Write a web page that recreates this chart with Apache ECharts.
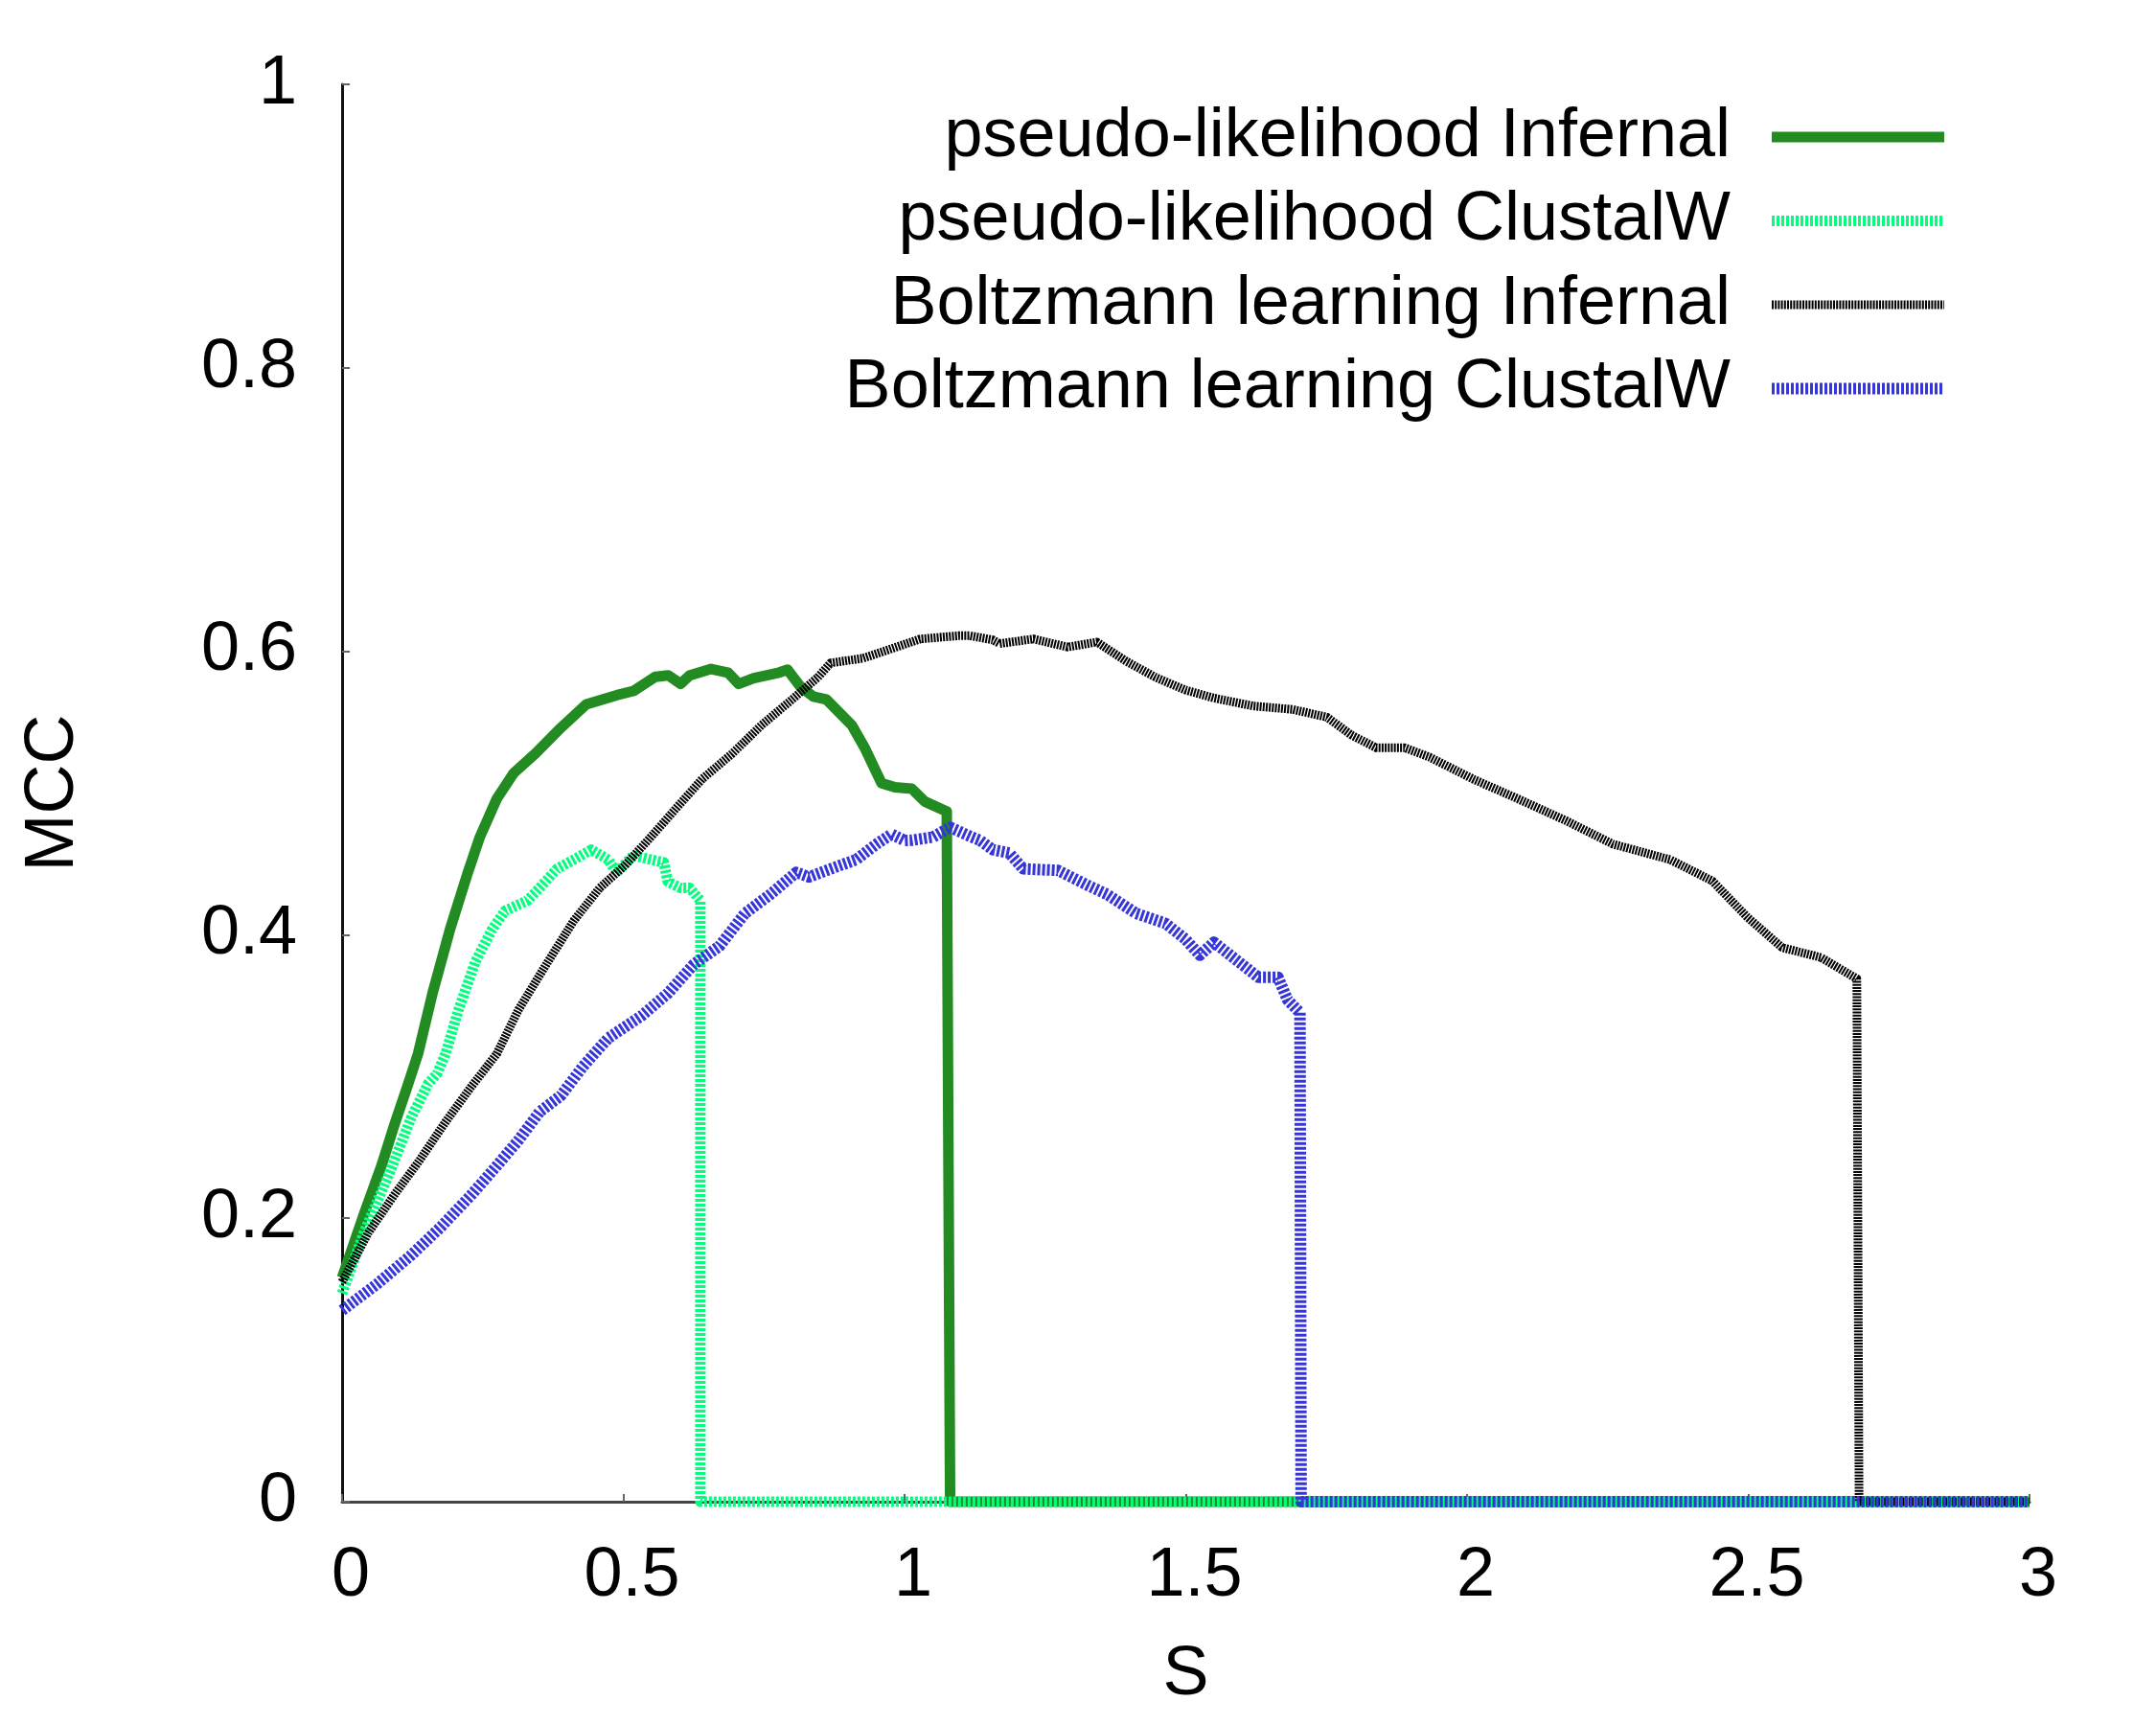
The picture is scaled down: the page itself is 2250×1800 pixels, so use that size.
<!DOCTYPE html>
<html>
<head>
<meta charset="utf-8">
<script src="https://cdn.jsdelivr.net/npm/echarts@6/dist/echarts.min.js"></script>
<style>
html,body{margin:0;padding:0;background:#fff;}
#chart{width:2250px;height:1800px;}
</style>
</head>
<body>
<div id="chart"></div>
<script>
// ---- data ----
const seriesNames = [
  'pseudo-likelihood Infernal',
  'pseudo-likelihood ClustalW',
  'Boltzmann learning Infernal',
  'Boltzmann learning ClustalW'
];
const xTicks = [0, 0.5, 1, 1.5, 2, 2.5, 3];
const yTicks = [0, 0.2, 0.4, 0.6, 0.8, 1];

const plInfernalS = [0, 0.039, 0.070, 0.093, 0.116, 0.135, 0.161, 0.192, 0.222, 0.245, 0.275, 0.305, 0.344, 0.389, 0.434, 0.488, 0.518, 0.557, 0.580, 0.602, 0.618, 0.656, 0.686, 0.705, 0.732, 0.777, 0.792, 0.815, 0.838, 0.861, 0.906, 0.929, 0.959, 0.983, 1.013, 1.036, 1.075, 1.081, 3];
const plInfernalMCC = [0.158, 0.203, 0.237, 0.266, 0.293, 0.316, 0.359, 0.404, 0.442, 0.469, 0.496, 0.514, 0.528, 0.546, 0.5625, 0.569, 0.572, 0.582, 0.583, 0.577, 0.583, 0.5875, 0.585, 0.577, 0.581, 0.585, 0.587, 0.575, 0.568, 0.566, 0.548, 0.532, 0.507, 0.504, 0.503, 0.494, 0.487, 0, 0];

const plClustalS = [0, 0.039, 0.085, 0.123, 0.153, 0.169, 0.184, 0.207, 0.237, 0.267, 0.290, 0.329, 0.351, 0.382, 0.412, 0.443, 0.473, 0.488, 0.518, 0.549, 0.572, 0.579, 0.602, 0.618, 0.633, 0.637, 0.637, 3];
const plClustalMCC = [0.147, 0.19, 0.2325, 0.271, 0.295, 0.302, 0.316, 0.347, 0.381, 0.404, 0.417, 0.424, 0.433, 0.4465, 0.453, 0.46, 0.453, 0.444, 0.456, 0.453, 0.451, 0.4375, 0.433, 0.433, 0.426, 0.424, 0, 0];

const blInfernalS = [0, 0.047, 0.093, 0.138, 0.184, 0.230, 0.275, 0.3135, 0.366, 0.412, 0.458, 0.503, 0.549, 0.5945, 0.6405, 0.693, 0.746, 0.80, 0.846, 0.8685, 0.925, 0.9445, 1.028, 1.097, 1.116, 1.157, 1.169, 1.229, 1.29, 1.342, 1.394, 1.446, 1.499, 1.55, 1.62, 1.69, 1.751, 1.794, 1.838, 1.889, 1.933, 2.012, 2.09, 2.177, 2.259, 2.361, 2.436, 2.498, 2.56, 2.629, 2.693, 2.697, 3];
const blInfernalMCC = [0.155, 0.19, 0.2166, 0.241, 0.268, 0.293, 0.316, 0.347, 0.381, 0.41, 0.433, 0.449, 0.469, 0.4895, 0.51, 0.5276, 0.548, 0.566, 0.5817, 0.5918, 0.595, 0.5975, 0.6087, 0.611, 0.611, 0.608, 0.6054, 0.6087, 0.603, 0.6065, 0.593, 0.5817, 0.5727, 0.567, 0.5614, 0.559, 0.5535, 0.541, 0.532, 0.532, 0.5254, 0.5096, 0.496, 0.4803, 0.464, 0.453, 0.438, 0.4125, 0.391, 0.384, 0.369, 0, 0];

const blClustalS = [0, 0.062, 0.123, 0.176, 0.230, 0.275, 0.3135, 0.351, 0.389, 0.428, 0.473, 0.533, 0.579, 0.625, 0.671, 0.716, 0.762, 0.8075, 0.83, 0.8685, 0.914, 0.952, 0.977, 1.0, 1.013, 1.051, 1.081, 1.119, 1.1335, 1.157, 1.186, 1.211, 1.273, 1.325, 1.36, 1.412, 1.464, 1.499, 1.525, 1.55, 1.586, 1.629, 1.664, 1.681, 1.703, 1.705, 3];
const blClustalMCC = [0.135, 0.1535, 0.174, 0.194, 0.2166, 0.237, 0.255, 0.275, 0.2865, 0.307, 0.327, 0.343, 0.3586, 0.379, 0.392, 0.415, 0.4287, 0.444, 0.4408, 0.4465, 0.453, 0.4645, 0.471, 0.4665, 0.4667, 0.469, 0.4758, 0.469, 0.4667, 0.46, 0.4577, 0.4465, 0.4454, 0.435, 0.4285, 0.415, 0.408, 0.397, 0.3856, 0.3947, 0.3834, 0.37, 0.37, 0.354, 0.345, 0, 0];

function pairs(xs, ys) { return xs.map((x, i) => [x, ys[i]]); }

const FONT = '"Liberation Sans", Arial, Helvetica, sans-serif';
const styles = [
  { color: '#228B22', width: 11, type: 'solid' },
  { color: '#00FF7F', width: 11, type: [3, 2] },
  { color: '#000000', width: 9, type: [2, 1.2] },
  { color: '#3535D8', width: 12, type: [3, 2] }
];
const dataSets = [
  pairs(plInfernalS, plInfernalMCC),
  pairs(plClustalS, plClustalMCC),
  pairs(blInfernalS, blInfernalMCC),
  pairs(blClustalS, blClustalMCC)
];

const chart = echarts.init(document.getElementById('chart'), null, { renderer: 'canvas' });
chart.setOption({
  backgroundColor: '#ffffff',
  animation: false,
  textStyle: { fontFamily: FONT },
  grid: { left: 357, top: 88, right: 132, bottom: 233, containLabel: false },
  legend: {
    orient: 'vertical',
    align: 'right',
    right: 210,
    top: 102,
    itemWidth: 180,
    itemHeight: 72,
    itemGap: 15.5,
    itemStyle: { opacity: 0 },
    textStyle: { fontSize: 72, color: '#000', fontFamily: FONT, padding: [0, 38, 0, 0] },
    data: seriesNames.map((n, i) => ({
      name: n,
      itemStyle: { opacity: 0 },
      lineStyle: { color: styles[i].color, width: styles[i].width, type: styles[i].type, cap: 'butt' }
    }))
  },
  xAxis: {
    type: 'value',
    min: 0, max: 3, interval: 0.5,
    name: 'S',
    nameLocation: 'middle',
    nameGap: 145,
    nameTextStyle: { fontSize: 72, color: '#000', fontFamily: FONT },
    axisLine: { show: true, onZero: false, lineStyle: { color: '#444', width: 3 } },
    axisTick: { show: true, inside: true, length: 8, lineStyle: { color: '#666', width: 2 } },
    axisLabel: { fontSize: 72, color: '#000', margin: 42, padding: [0, 0, 0, 18], fontFamily: FONT,
      formatter: v => String(xTicks.find(t => Math.abs(t - v) < 1e-9) ?? v) },
    splitLine: { show: false }
  },
  yAxis: {
    type: 'value',
    min: 0, max: 1, interval: 0.2,
    name: 'MCC',
    nameLocation: 'middle',
    nameGap: 265,
    nameRotate: 90,
    nameTextStyle: { fontSize: 72, color: '#000', fontFamily: FONT },
    axisLine: { show: true, lineStyle: { color: '#111', width: 3 } },
    axisTick: { show: true, inside: true, length: 8, lineStyle: { color: '#666', width: 2 } },
    axisLabel: { fontSize: 72, color: '#000', margin: 47, fontFamily: FONT,
      formatter: v => String(yTicks.find(t => Math.abs(t - v) < 1e-9) ?? v) },
    splitLine: { show: false }
  },
  series: dataSets.map((d, i) => ({
    name: seriesNames[i],
    type: 'line',
    data: d,
    showSymbol: false,
    symbol: 'none',
    clip: false,
    lineStyle: { color: styles[i].color, width: styles[i].width, type: styles[i].type, cap: 'butt', join: 'round' },
    itemStyle: { color: styles[i].color },
    z: 2 + i
  }))
});
</script>
</body>
</html>
